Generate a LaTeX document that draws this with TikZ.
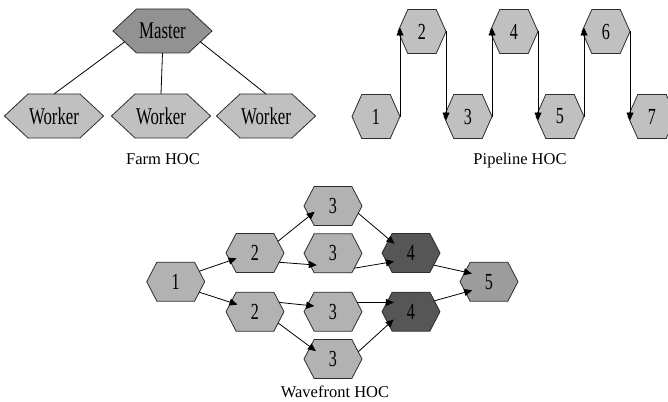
\documentclass[tikz,border=0pt]{standalone}
\usepackage{fontspec}
\setmainfont{Liberation Serif}
\newfontfamily\hexfont[FakeStretch=0.7]{Liberation Serif}
\usetikzlibrary{shapes.symbols,arrows.meta}

\definecolor{workerfill}{RGB}{192,192,192}
\definecolor{masterfill}{RGB}{146,146,146}
\definecolor{stagefill}{RGB}{192,192,192}
\definecolor{wavefill}{RGB}{178,178,178}
\definecolor{joinfill}{RGB}{156,156,156}
\definecolor{darkfill}{RGB}{86,86,86}
\definecolor{edgegray}{RGB}{45,45,45}

\begin{document}
\begin{tikzpicture}[x=1pt,y=-1pt,
  hexnode/.style={signal, signal to=west and east, draw=edgegray,
    line width=0.8pt, inner sep=1pt, outer sep=0pt},
  farmhex/.style={hexnode, minimum width=99pt, minimum height=44pt,
    signal pointer angle=86, font=\hexfont\fontsize{24}{24}\selectfont},
  pipehex/.style={hexnode, fill=stagefill, minimum width=48pt, minimum height=44pt,
    signal pointer angle=132, font=\hexfont\fontsize{23}{23}\selectfont},
  wavehex/.style={hexnode, minimum width=58pt, minimum height=39pt,
    signal pointer angle=125, font=\hexfont\fontsize{23}{23}\selectfont},
  caption/.style={anchor=base, inner sep=0pt, font=\fontsize{16.5}{18}\selectfont},
  link/.style={draw=black, line width=0.8pt},
  flow/.style={link, -{Triangle[length=8pt,width=7pt]}},
  pipeflow/.style={flow, shorten >=-4pt},
  waveflow/.style={flow, shorten >=-7pt},
]
\useasboundingbox (0,0) rectangle (668,401);

% ---------- Farm ----------
\node[farmhex, fill=masterfill] (M) at (162.5,31) {Master};
\node[farmhex, fill=workerfill] (W1) at (54,116) {Worker};
\node[farmhex, fill=workerfill] (W2) at (161,116) {Worker};
\node[farmhex, fill=workerfill] (W3) at (266,116) {Worker};
\draw[link] (M.196) -- (W1.north);
\draw[link] (M.south) -- (W2.north);
\draw[link] (M.344) -- (W3.north);
\node[caption] (farmcap) at (163,164) {Farm HOC};

% ---------- Pipeline ----------
\node[pipehex] (P1) at (376,116.5) {1};
\node[pipehex] (P2) at (422,31.5) {2};
\node[pipehex] (P3) at (468,116.5) {3};
\node[pipehex] (P4) at (514,31.5) {4};
\node[pipehex] (P5) at (560,116.5) {5};
\node[pipehex] (P6) at (606,31.5) {6};
\node[pipehex] (P7) at (652,116.5) {7};
% each stage hands over vertically, from one tip to the next stage's tip
\draw[pipeflow] (P1.east) -- (P1.east |- P2.west);
\draw[pipeflow] (P2.east) -- (P2.east |- P3.west);
\draw[pipeflow] (P3.east) -- (P3.east |- P4.west);
\draw[pipeflow] (P4.east) -- (P4.east |- P5.west);
\draw[pipeflow] (P5.east) -- (P5.east |- P6.west);
\draw[pipeflow] (P6.east) -- (P6.east |- P7.west);
\node[caption] (pipecap) at (520,164) {Pipeline HOC};

% ---------- Wavefront ----------
\node[wavehex, fill=wavefill] (A1) at (175.7,281.7) {1};
\node[wavehex, fill=wavefill] (B1) at (255,253) {2};
\node[wavehex, fill=wavefill] (B2) at (255,311.7) {2};
\node[wavehex, fill=wavefill] (C1) at (333,206) {3};
\node[wavehex, fill=wavefill] (C2) at (333,253.3) {3};
\node[wavehex, fill=wavefill] (C3) at (333,311.7) {3};
\node[wavehex, fill=wavefill] (C4) at (333,359) {3};
\node[wavehex, fill=darkfill] (D1) at (411,253) {4};
\node[wavehex, fill=darkfill] (D2) at (411,311.7) {4};
\node[wavehex, fill=joinfill] (E1) at (489,281.7) {5};

\draw[waveflow] (A1.24) -- (B1.197);
\draw[waveflow] (A1.336) -- (B2.159);
\draw[waveflow] (B1.27) -- (C1.203);
\draw[waveflow] (B1.339) -- (C2.206);
\draw[waveflow] (B2.21) -- (C3.166);
\draw[waveflow] (B2.334) -- (C4.152);
\draw[waveflow] (C1.344) -- (D1.148);
\draw[waveflow] (C2.325) -- (D1.202);
\draw[waveflow] (C3.21) -- (D2.159);
\draw[waveflow] (C4.16) -- (D2.209);
\draw[waveflow] (D1.332) -- (E1.158);
\draw[waveflow] (D2.25) -- (E1.204);
\node[caption] (wavecap) at (335,397) {Wavefront HOC};
\end{tikzpicture}
\end{document}
